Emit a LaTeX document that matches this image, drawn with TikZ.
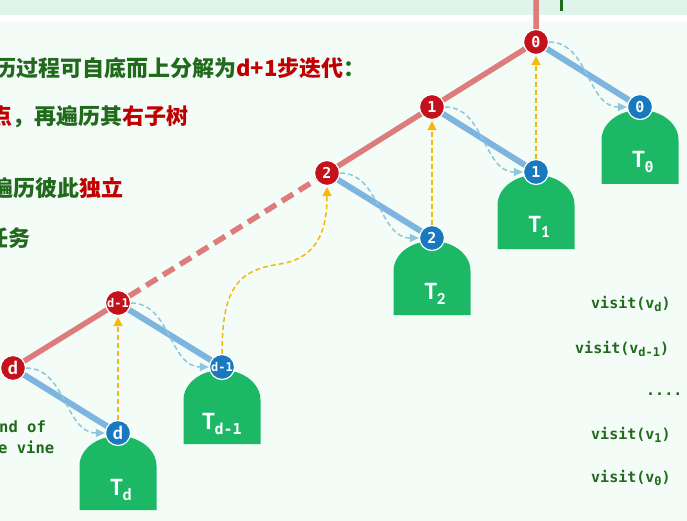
\documentclass[tikz,border=0pt]{standalone}
\usepackage{fontspec}
\usetikzlibrary{arrows.meta}
\newfontfamily\cjk{Noto Sans CJK SC}
\newfontfamily\monof{DejaVu Sans Mono}
\newfontfamily\calib{Carlito}
\definecolor{bgc}{HTML}{F3FCF7}
\definecolor{topc}{HTML}{DFF5EB}
\definecolor{greentxt}{HTML}{21691B}
\definecolor{redtxt}{HTML}{C00000}
\definecolor{nred}{HTML}{C4121C}
\definecolor{nblue}{HTML}{1878C0}
\definecolor{lred}{HTML}{DE7C7C}
\definecolor{lblue}{HTML}{7DB5DF}
\definecolor{dblue}{HTML}{8FC6DF}
\definecolor{gold}{HTML}{F6B80A}
\definecolor{treeg}{HTML}{1DB865}
\newcommand\subT[1]{\raisebox{-5pt}{\fontsize{17}{17}\selectfont #1}}
\newcommand\subTm[1]{\raisebox{-5pt}{\monof\fontsize{15}{15}\selectfont #1}}
\newcommand\subV[1]{\raisebox{-3.5pt}{\fontsize{12}{12}\selectfont #1}}
\tikzset{
  rn/.style={circle, fill=nred, draw=white, line width=1.2pt, minimum size=25pt,
    inner sep=0pt, text=white, font=\monof\bfseries\fontsize{15}{15}\selectfont},
  bn/.style={rn, fill=nblue},
  smalllab/.style={font=\monof\bfseries\fontsize{12}{12}\selectfont},
  dlab/.style={font=\calib\bfseries\fontsize{19}{19}\selectfont},
  redline/.style={lred, line width=5.5pt},
  blueline/.style={lblue, line width=6pt},
  yarrow/.style={gold, line width=1.5pt, dash pattern=on 5pt off 3pt,
    -{Triangle[width=9pt,length=9pt]}, shorten >=1pt},
  bcurve/.style={dblue, line width=1.5pt, dash pattern=on 5pt off 3pt,
    -{Triangle[width=8pt,length=9pt]}},
  tl/.style={text=white, inner sep=0pt, anchor=base, font=\calib\bfseries\fontsize{25}{25}\selectfont},
  cn/.style={inner sep=0pt, anchor=west, text=greentxt, font=\cjk\bfseries\fontsize{22}{22}\selectfont},
  mt/.style={inner sep=0pt, text=greentxt, font=\monof\bfseries\fontsize{15.5}{15.5}\selectfont},
  vt/.style={mt, anchor=base west, font=\monof\bfseries\fontsize{15}{15}\selectfont},
  tree/.pic={\fill[treeg] (-38.5,77) -- (-38.5,33) .. controls (-38.5,16.4) and (-21.3,3) .. (0,3)
     .. controls (21.3,3) and (38.5,16.4) .. (38.5,33) -- (38.5,77) -- cycle;}
}
\begin{document}
\begin{tikzpicture}[x=1pt,y=-1pt]
\useasboundingbox (0,0) rectangle (687,521);
\fill[bgc] (0,0) rectangle (687,521);
\fill[topc] (0,0) rectangle (687,15);
\fill[white] (0,15) rectangle (687,21);
\clip (0,0) rectangle (687,521);
\fill[greentxt] (560,0) rectangle (563,11);

% coordinates of nodes
\coordinate (top) at (536,0);
\coordinate (pr0) at (536,42);
\coordinate (pr1) at (432,107);
\coordinate (pr2) at (327,173);
\coordinate (prm) at (118,303);
\coordinate (prd) at (13,368);
\coordinate (pb0) at (640,107);
\coordinate (pb1) at (536,172);
\coordinate (pb2) at (432,238);
\coordinate (pbm) at (222,367);
\coordinate (pbd) at (118,433);

% spine
\draw[redline] (top) -- (pr0) -- (pr1) -- (pr2);
\draw[redline, dash pattern=on 13pt off 7pt] (pr2) -- (prm);
\draw[redline] (prm) -- (prd);
% right branches
\draw[blueline] (pr0) -- (pb0);
\draw[blueline] (pr1) -- (pb1);
\draw[blueline] (pr2) -- (pb2);
\draw[blueline] (prm) -- (pbm);
\draw[blueline] (prd) -- (pbd);

% subtrees
\pic at (pb0) {tree};
\pic at (pb1) {tree};
\pic at (pb2) {tree};
\pic at (pbm) {tree};
\pic at (pbd) {tree};
\node[tl] (t0) at (643,168) {T\subTm{0}};
\node[tl] (t1) at (539,233) {T\subT{1}};
\node[tl] (t2) at (435,299) {T\subT{2}};
\node[tl] (tm) at (222,429) {T\subTm{d-1}};
\node[tl] (td) at (121,495) {T\subT{d}};

% nodes
\node[rn] (r0) at (pr0) {0};
\node[rn] (r1) at (pr1) {1};
\node[rn] (r2) at (pr2) {2};
\node[rn, smalllab] (rm) at (prm) {d-1};
\node[rn, dlab] (rd) at (prd) {d};
\node[bn] (b0) at (pb0) {0};
\node[bn] (b1) at (pb1) {1};
\node[bn] (b2) at (pb2) {2};
\node[bn, smalllab] (bm) at (pbm) {d-1};
\node[bn, dlab] (bd) at (pbd) {d};

% dashed curved arrows (visit order)
\draw[bcurve] (r0.east) to[out=0,in=180] (b0.west);
\draw[bcurve] (r1.east) to[out=0,in=180] (b1.west);
\draw[bcurve] (r2.east) to[out=0,in=180] (b2.west);
\draw[bcurve] (rm.east) to[out=0,in=180] (bm.west);
\draw[bcurve] (rd.east) to[out=0,in=180] (bd.west);

% yellow arrows
\draw[yarrow] (b1.north) -- (r0.south);
\draw[yarrow] (b2.north) -- (r1.south);
\draw[yarrow] (bd.north) -- (rm.south);
\draw[yarrow] (bm.north) .. controls (222,285) and (240,270) .. (280,264)
   .. controls (318,258) and (327,230) .. (r2.south);

% left texts
\node[cn] (l1) at (-6,68) {历过程可自底而上分解为\textcolor{redtxt}{d+1步迭代}：};
\node[cn] (l2) at (-10,117) {\textcolor{redtxt}{点}，再遍历其\textcolor{redtxt}{右子树}};
\node[cn] (l3) at (-9,188) {遍历彼此\textcolor{redtxt}{独立}};
\node[cn] (l4) at (-14,238) {任务};

\node[mt, anchor=base west] (e1) at (-1,432) {nd of};
\node[mt, anchor=base west] (e2) at (-2,453) {e vine};

% visit list
\node[vt] (v1) at (591,308) {visit(v\subV{d})};
\node[vt] (v2) at (575,353) {visit(v\subV{d-1})};
\node[vt] (v3) at (646,395) {....};
\node[vt] (v4) at (591,439) {visit(v\subV{1})};
\node[vt] (v5) at (591,482) {visit(v\subV{0})};
\end{tikzpicture}
\end{document}
